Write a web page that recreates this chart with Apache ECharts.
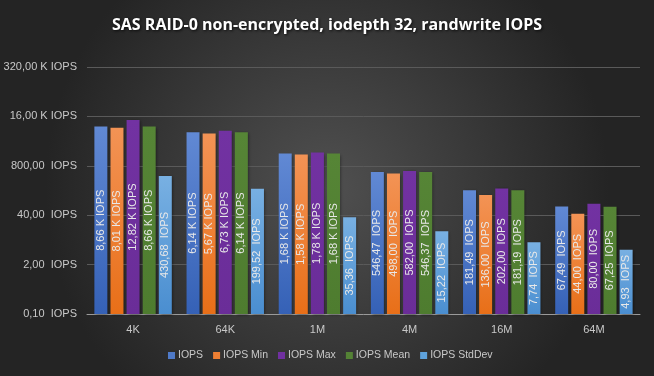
<!DOCTYPE html>
<html>
<head>
<meta charset="utf-8">
<script src="https://cdn.jsdelivr.net/npm/echarts@6/dist/echarts.min.js"></script>
<style>
  html, body { margin: 0; padding: 0; background: #2b2b2b; }
  #chart { width: 654px; height: 376px; }
</style>
</head>
<body>
<div id="chart"></div>
<script>
var categories = ["4K", "64K", "1M", "4M", "16M", "64M"];
var seriesNames = ["IOPS", "IOPS Min", "IOPS Max", "IOPS Mean", "IOPS StdDev"];
var iops      = [8660, 6140, 1680, 546.47, 181.49, 67.49];
var iopsMin   = [8010, 5670, 1580, 498.00, 136.00, 44.00];
var iopsMax   = [12820, 6730, 1780, 582.00, 202.00, 80.00];
var iopsMean  = [8660, 6140, 1680, 546.37, 181.19, 67.25];
var iopsStd   = [430.68, 199.52, 35.36, 15.22, 7.74, 4.93];

// the axis runs 0,10 .. 320 K in steps of x20; values are shifted by x10 so the
// log20 ticks land on 20^0 .. 20^5
var SHIFT = 10;

function fmt(v) {
  if (v >= 1000) return (v / 1000).toFixed(2).replace(".", ",") + " K IOPS";
  return v.toFixed(2).replace(".", ",") + "  IOPS";
}

function grad(top, bottom) {
  return new echarts.graphic.LinearGradient(0, 0, 0, 1, [
    { offset: 0, color: top }, { offset: 1, color: bottom }
  ]);
}

var colors = [
  grad("#6189d4", "#3561b6"),
  grad("#f39355", "#e86f18"),
  grad("#7232a2", "#6a2d98"),
  grad("#568536", "#4e7c2f"),
  grad("#78b0e2", "#4a8ed0")
];
var legendColors = ["#4f7ac8", "#ee7f33", "#7030a0", "#548235", "#5ea2dc"];
var allData = [iops, iopsMin, iopsMax, iopsMean, iopsStd];

var series = allData.map(function (arr, i) {
  return {
    name: seriesNames[i],
    type: "bar",
    barGap: "24%",
    barCategoryGap: "16%",
    data: arr.map(function (v) { return { value: v * SHIFT, raw: v }; }),
    itemStyle: {
      color: colors[i],
      shadowColor: "rgba(0,0,0,0.45)",
      shadowBlur: 3,
      shadowOffsetX: 1,
      shadowOffsetY: 1
    },
    label: {
      show: true,
      position: "inside",
      rotate: 90,
      color: "#e8e8e8",
      fontSize: 11,
      fontFamily: "Liberation Sans",
      formatter: function (p) { return fmt(p.data.raw); }
    }
  };
});

var myChart = echarts.init(document.getElementById("chart"));
var option = {
  backgroundColor: {
    type: "radial", x: 0.5, y: 0.5, r: 0.75,
    colorStops: [{ offset: 0, color: "#505050" }, { offset: 1, color: "#242424" }]
  },
  color: legendColors,
  title: {
    text: "SAS RAID-0 non-encrypted, iodepth 32, randwrite IOPS",
    left: "center",
    top: 12,
    textStyle: {
      color: "#ffffff",
      fontSize: 16,
      fontWeight: "bold",
      fontFamily: "Open Sans",
      textShadowColor: "rgba(0,0,0,0.8)",
      textShadowBlur: 3,
      textShadowOffsetX: 1,
      textShadowOffsetY: 1
    }
  },
  legend: {
    bottom: 10,
    left: 163,
    icon: "rect",
    itemWidth: 7,
    itemHeight: 7,
    itemGap: 10,
    textStyle: { color: "#c8c8c8", fontSize: 10.5, fontFamily: "Liberation Sans", padding: [0, 0, 0, -2] },
    data: seriesNames.map(function (n, i) {
      return { name: n, itemStyle: { color: legendColors[i] } };
    })
  },
  grid: { left: 87, right: 14, top: 67, bottom: 62 },
  xAxis: {
    type: "category",
    data: categories,
    axisLine: { lineStyle: { color: "#9a9a9a", width: 1 } },
    axisTick: { show: false },
    axisLabel: { color: "#c8c8c8", fontSize: 11, margin: 10, fontFamily: "Liberation Sans" }
  },
  yAxis: {
    type: "log",
    logBase: 20,
    min: 1,
    max: 3200000,
    interval: 1,
    axisLine: { show: false },
    axisTick: { show: false },
    splitLine: { lineStyle: { color: "#5a5a5a", width: 1 } },
    axisLabel: {
      color: "#c8c8c8",
      fontSize: 11,
      margin: 10,
      fontFamily: "Liberation Sans",
      formatter: function (v) { return fmt(Math.round(v) / SHIFT); }
    }
  },
  series: series
};
myChart.setOption(option);
</script>
</body>
</html>
